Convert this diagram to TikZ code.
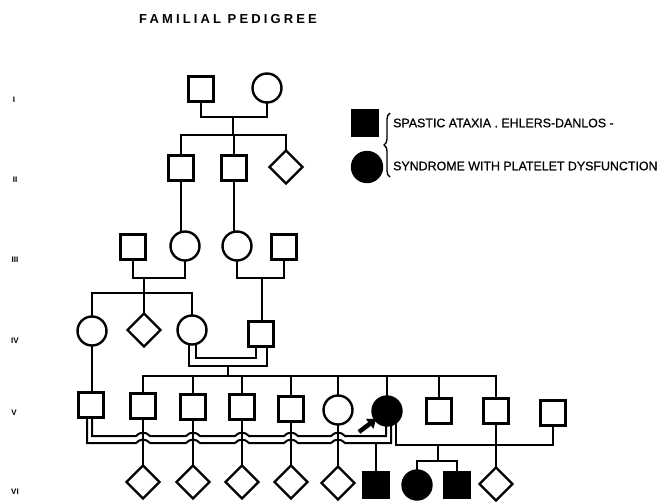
\documentclass[tikz,border=0pt]{standalone}
\usepackage{fontspec}
\newfontfamily\lett[FakeBold=0.6]{Liberation Sans}
\newfontfamily\genf{Liberation Sans}
\newfontfamily\titlef[LetterSpace=24]{Liberation Sans}
\usetikzlibrary{shapes.geometric,arrows.meta,decorations.pathreplacing,calc}
\pgfdeclarelayer{bg}
\pgfsetlayers{bg,main}
\begin{document}
\begin{tikzpicture}[x=1pt,y=-1pt,
  sq/.style={draw, rectangle, minimum size=25pt, inner sep=0pt, line width=2.4pt, fill=white},
  ci/.style={draw, circle, minimum size=29pt, inner sep=0pt, line width=2.4pt, fill=white},
  di/.style={draw, diamond, aspect=1, minimum size=34pt, inner sep=0pt, line width=2.4pt, fill=white},
  aff/.style={fill=black},
  link/.style={line width=2.3pt},
  dbl/.style={line width=2pt},
  gen/.style={font=\genf\bfseries\fontsize{8}{8}\selectfont, inner sep=0pt},
  legtext/.style={font=\lett\fontsize{12.4}{12.4}\selectfont, anchor=west, inner sep=0pt}
]
\useasboundingbox (0,0) rectangle (660,501);

% title and generation labels
\node[font=\titlef\bfseries\fontsize{13}{13}\selectfont, inner sep=0pt] (title) at (228,19) {FAMILIAL PEDIGREE};
\node[gen] (g1) at (14,100) {I};
\node[gen] (g2) at (15,180) {II};
\node[gen] (g3) at (15,260) {III};
\node[gen] (g4) at (15,341) {IV};
\node[gen] (g5) at (14,413) {V};
\node[gen] (g6) at (15,492) {VI};

% legend
\node[sq, aff, minimum size=26pt] (lg1) at (365,123) {};
\node[ci, aff, minimum size=30pt] (lg2) at (367,167) {};
\coordinate (brb) at (390,177);
\coordinate (brt) at (390,113);
\draw[line width=1.4pt, decorate, decoration={brace, amplitude=6pt}] (brb) -- (brt);
\node[legtext] (lt1) at (393,123) {SPASTIC ATAXIA . EHLERS-DANLOS -};
\node[legtext] (lt2) at (393,166) {SYNDROME WITH PLATELET DYSFUNCTION};

% generation I
\node[sq] (i1) at (201,89) {};
\node[ci] (i2) at (267,88) {};
% generation II
\node[sq] (ii1) at (181,168) {};
\node[sq] (ii2) at (234,168) {};
\node[di] (ii3) at (286,167) {};
% generation III
\node[sq] (iii1) at (133,247) {};
\node[ci] (iii2) at (185,246) {};
\node[ci] (iii3) at (237,246) {};
\node[sq] (iii4) at (284,247) {};
% generation IV
\node[ci] (iv1) at (92,331) {};
\node[di] (iv2) at (144,330) {};
\node[ci] (iv3) at (192,330) {};
\node[sq] (iv4) at (261,334) {};
% generation V
\node[sq] (v1) at (91,405) {};
\node[sq] (v2) at (143,406) {};
\node[sq] (v3) at (193,407) {};
\node[sq] (v4) at (242,407) {};
\node[sq] (v5) at (291,409) {};
\node[ci] (v6) at (338,410) {};
\node[ci, aff] (v7) at (387,411) {};
\node[sq] (v8) at (439,411) {};
\node[sq] (v9) at (496,411) {};
\node[sq] (v10) at (553,413) {};
% generation VI
\node[di] (vi1) at (143,482) {};
\node[di] (vi2) at (193,482) {};
\node[di] (vi3) at (242,482) {};
\node[di] (vi4) at (291,482) {};
\node[di] (vi5) at (338,483) {};
\node[sq, aff] (vi6) at (376,485) {};
\node[ci, aff] (vi7) at (417,485) {};
\node[sq, aff] (vi8) at (457,485) {};
\node[di] (vi9) at (496,484) {};

% proband arrow
\coordinate (arrtail) at (359,432);
\coordinate (arrtip) at (376,419);
\draw[line width=4.5pt, -{Triangle[width=12pt,length=8pt]}] (arrtail) -- (arrtip);

% helper coordinates for line levels
\coordinate (y1m) at (0,117);
\coordinate (s1) at (233,135);
\coordinate (y3m) at (0,278);
\coordinate (s3a) at (144,293);
\coordinate (d3b) at (262,278);
\coordinate (yin) at (0,358);
\coordinate (yout) at (0,366);
\coordinate (dv) at (228,366);
\coordinate (sv) at (228,376);
\coordinate (y5in) at (0,436);
\coordinate (y5out) at (0,443);
\coordinate (y5m) at (0,445);
\coordinate (c6) at (376,443);
\coordinate (d7) at (438,445);
\coordinate (s7) at (438,461);

\begin{pgfonlayer}{bg}
% I marriage and sibship
\draw[link] (i1.center) -- (i1.center |- y1m) -- (i2.center |- y1m) -- (i2.center);
\draw[link] (s1 |- y1m) -- (s1);
\draw[link] (ii1.center) -- (ii1.center |- s1) -- (ii3.center |- s1) -- (ii3.center);
\draw[link] (ii2.center) -- (ii2.center |- s1);
% II to III
\draw[link] (ii1.center) -- (ii1.center |- iii2.center);
\draw[link] (ii2.center) -- (ii2.center |- iii3.center);
% III marriages
\draw[link] (iii1.center) -- (iii1.center |- y3m) -- (iii2.center |- y3m) -- (iii2.center);
\draw[link] (s3a |- y3m) -- (s3a);
\draw[link] (iv1.center) -- (iv1.center |- s3a) -- (iv3.center |- s3a) -- (iv3.center);
\draw[link] (iv2.center) -- (iv2.center |- s3a);
\draw[link] (iii3.center) -- (iii3.center |- y3m) -- (iii4.center |- y3m) -- (iii4.center);
\draw[link] (d3b) -- (d3b |- iv4.center);
% IV consanguineous marriage (double line)
\coordinate (iv3in) at ([xshift=4pt]iv3.center);
\coordinate (iv3out) at ([xshift=-3pt]iv3.center);
\coordinate (iv4in) at ([xshift=-5pt]iv4.center);
\coordinate (iv4out) at ([xshift=6pt]iv4.center);
\draw[dbl] (iv3in) -- (iv3in |- yin) -- (iv4in |- yin) -- (iv4in);
\draw[dbl] (iv3out) -- (iv3out |- yout) -- (iv4out |- yout) -- (iv4out);
\draw[link] (dv) -- (sv);
% V sibship
\draw[link] (v2.center) -- (v2.center |- sv) -- (v9.center |- sv) -- (v9.center);
\foreach \n in {v3,v4,v5,v6,v7,v8} {\draw[link] (\n.center) -- (\n.center |- sv);}
% IV-1 to V-1
\draw[link] (iv1.center) -- (iv1.center |- v1.center);
% V-1 x V-7 double line with hops
\coordinate (v1in) at ([xshift=1pt]v1.center);
\coordinate (v1out) at ([xshift=-4pt]v1.center);
\coordinate (v7in) at ([xshift=-1pt]v7.center);
\coordinate (v7out) at ([xshift=4pt]v7.center);
\draw[dbl] (v1in) -- (v1in |- y5in)
  \foreach \c in {143,193,242,291,338} { -- ({\c-7},436) .. controls ({\c-3},431.5) and ({\c+3},431.5) .. ({\c+7},436) }
  -- (v7in |- y5in) -- (v7in);
\draw[dbl] (v1out) -- (v1out |- y5out)
  \foreach \c in {143,193,242,291,338} { -- ({\c-7},443) .. controls ({\c-3},438.5) and ({\c+3},438.5) .. ({\c+7},443) }
  -- (v7out |- y5out) -- (v7out);
\draw[link] (c6) -- (vi6.center);
% V to VI verticals
\draw[link] (v2.center) -- (vi1.center);
\draw[link] (v3.center) -- (vi2.center);
\draw[link] (v4.center) -- (vi3.center);
\draw[link] (v5.center) -- (vi4.center);
\draw[link] (v6.center) -- (vi5.center);
\draw[link] (v9.center) -- (vi9.center);
% V-7 x V-10 marriage
\coordinate (v7m) at ([xshift=9pt]v7.center);
\draw[link] (v7m) -- (v7m |- y5m) -- (v10.center |- y5m) -- (v10.center);
\draw[link] (d7) -- (s7);
\draw[link] (vi7.center) -- (vi7.center |- s7) -- (vi8.center |- s7) -- (vi8.center);
\end{pgfonlayer}
\end{tikzpicture}
\end{document}
